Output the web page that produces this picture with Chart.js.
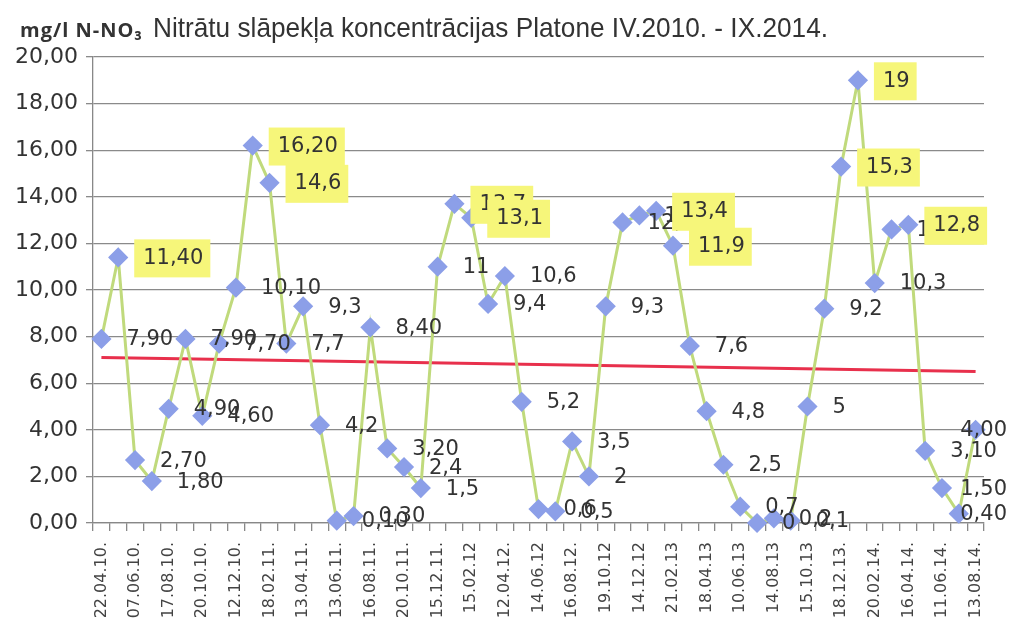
<!DOCTYPE html>
<html lang="lv">
<head>
    <meta charset="UTF-8">
    <title>Nitrātu slāpekļa koncentrācijas Platone</title>
    <style>
        html, body { margin: 0; padding: 0; background: #fff; }
        .wrap { position: relative; width: 1011px; height: 621px; }
        .title { position: absolute; left: 20px; top: 12px; white-space: nowrap; color: #333; }
        .title .unit { font-family: "Open Sans", sans-serif; font-weight: bold; font-size: 20px; letter-spacing: 1px; }
        .title .main { font-family: "Liberation Sans Narrow", "Liberation Sans", sans-serif; font-size: 28px; margin-left: 10px; display: inline-block; transform-origin: left center; }
        canvas { position: absolute; left: 0; top: 0; }
    </style>
</head>
<body>
<div class="wrap">
    <canvas id="myChart" width="1011" height="621"></canvas>
    <div class="title"><span class="unit">mg/l N-NO₃</span><span class="main" id="mainTitle">Nitrātu slāpekļa koncentrācijas Platone IV.2010. - IX.2014.</span></div>
</div>
<script src="https://cdn.jsdelivr.net/npm/chart.js@4.4.1/dist/chart.umd.min.js"></script>
<script>
    // tick labels under every second sample
    var dateLabels = ['22.04.10.', '07.06.10.', '17.08.10.', '20.10.10.', '12.12.10.', '18.02.11.', '13.04.11.',
        '13.06.11.', '16.08.11.', '20.10.11.', '15.12.11.', '15.02.12', '12.04.12.', '14.06.12', '16.08.12.',
        '19.10.12', '14.12.12', '21.02.13', '18.04.13', '10.06.13', '14.08.13', '15.10.13', '18.12.13.',
        '20.02.14.', '16.04.14.', '11.06.14.', '13.08.14.'];

    // N-NO3, mg/l
    var values = [7.9, 11.4, 2.7, 1.8, 4.9, 7.9, 4.6, 7.7, 10.1, 16.2, 14.6, 7.7, 9.3, 4.2, 0.1, 0.3, 8.4,
        3.2, 2.4, 1.5, 11, 13.7, 13.1, 9.4, 10.6, 5.2, 0.6, 0.5, 3.5, 2, 9.3, 12.9, 13.2, 13.4, 11.9, 7.6,
        4.8, 2.5, 0.7, 0, 0.2, 0.1, 5, 9.2, 15.3, 19, 10.3, 12.6, 12.8, 3.1, 1.5, 0.4, 4];

    var valueLabels = ['7,90', '11,40', '2,70', '1,80', '4,90', '7,90', '4,60', '7,70', '10,10', '16,20', '14,6',
        '7,7', '9,3', '4,2', '0,10', '0,30', '8,40', '3,20', '2,4', '1,5', '11', '13,7', '13,1', '9,4', '10,6',
        '5,2', '0,6', '0,5', '3,5', '2', '9,3', '12,9', '13,2', '13,4', '11,9', '7,6', '4,8', '2,5', '0,7', '0',
        '0,2', '0,1', '5', '9,2', '15,3', '19', '10,3', '12,6', '12,8', '3,10', '1,50', '0,40', '4,00'];

    // labels with yellow background
    var highlighted = [1, 9, 10, 21, 22, 33, 34, 44, 45, 48];

    // linear trend, start and end
    var trend = [7.1, 6.5];

    var categories = [];
    for (var i = 0; i < values.length; i++) {
        categories.push(i % 2 === 0 ? dateLabels[i / 2] : '');
    }

    // fit title width to the picture
    var mt = document.getElementById('mainTitle');
    mt.style.transform = 'scaleX(' + (675 / mt.getBoundingClientRect().width) + ')';

    var labelPlugin = {
        id: 'valueLabels',
        afterDatasetsDraw: function (chart) {
            var ctx = chart.ctx;
            var meta = chart.getDatasetMeta(0);
            ctx.save();
            ctx.font = '21px "DejaVu Sans"';
            ctx.textBaseline = 'middle';
            meta.data.forEach(function (pt, i) {
                var txt = valueLabels[i];
                var w = ctx.measureText(txt).width;
                var x = Math.min(pt.x + 25, 1007 - w);
                var y = pt.y + 1;
                if (highlighted.indexOf(i) >= 0) {
                    ctx.fillStyle = '#f6f67a';
                    ctx.fillRect(x - 9, y - 19, w + 16, 38);
                }
                ctx.fillStyle = '#333';
                ctx.fillText(txt, x, y);
            });
            ctx.restore();
        }
    };

    Chart.defaults.font.family = '"DejaVu Sans", sans-serif';
    Chart.defaults.color = '#333';

    var ctx = document.getElementById('myChart').getContext('2d');
    var chart = new Chart(ctx, {
        type: 'line',
        data: {
            labels: categories,
            datasets: [
                {
                    data: values,
                    borderColor: '#c0da7c',
                    borderWidth: 3,
                    pointStyle: 'rectRot',
                    pointRadius: 8,
                    pointBackgroundColor: '#8c9fe8',
                    pointBorderColor: '#8c9fe8',
                    tension: 0,
                    clip: false
                },
                {
                    data: [{ x: categories[0], y: trend[0] }, { x: categories[categories.length - 1], y: trend[1] }],
                    borderColor: '#e8304c',
                    borderWidth: 3,
                    pointRadius: 0,
                    tension: 0
                }
            ]
        },
        options: {
            responsive: false,
            animation: false,
            events: [],
            layout: { padding: { left: 0, top: 57, right: 27, bottom: 0 } },
            plugins: {
                legend: { display: false },
                tooltip: { enabled: false }
            },
            scales: {
                x: {
                    offset: true,
                    afterFit: function (scale) { scale.height = 98; },
                    grid: { drawOnChartArea: false, offset: true, tickLength: 8, color: '#888', lineWidth: 1.3 },
                    border: { color: '#888', width: 1.3 },
                    ticks: {
                        autoSkip: false,
                        minRotation: 90,
                        maxRotation: 90,
                        padding: 11,
                        font: { size: 16 },
                        color: '#444'
                    }
                },
                y: {
                    min: 0,
                    max: 20,
                    afterFit: function (scale) { scale.width = 93; },
                    grid: { color: '#8a8a8a', lineWidth: 1.3, tickLength: 7 },
                    border: { color: '#888', width: 1.3 },
                    ticks: {
                        stepSize: 2,
                        padding: 8,
                        font: { size: 22 },
                        color: '#333',
                        callback: function (v) { return v.toFixed(2).replace('.', ','); }
                    }
                }
            }
        },
        plugins: [labelPlugin]
    });
</script>
</body>
</html>
